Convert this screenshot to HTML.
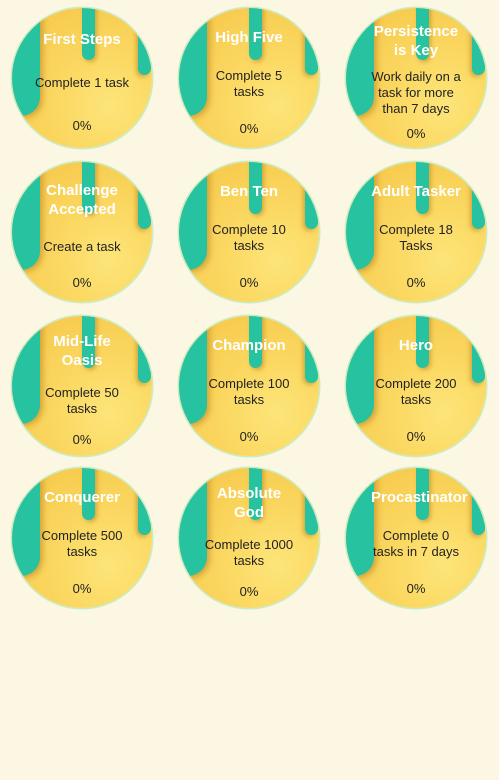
<!DOCTYPE html>
<html><head><meta charset="utf-8"><style>
html,body{margin:0;padding:0;background:#fbf7e2;width:499px;height:780px;overflow:hidden;font-family:"Liberation Sans",sans-serif;}
.b{position:absolute;width:140px;height:140px;border-radius:50%;overflow:hidden;
background:radial-gradient(circle at 70% 70%,#fde57a 0%,#fbd963 35%,#f7cc50 75%,#f3c248 100%);
box-shadow:0 0 0 1.5px #c8ecc4;}
.d{position:absolute;background:#27c29f;}
.d1{left:-10px;top:-20px;width:38px;height:128px;border-radius:0 0 19px 19px;box-shadow:3px 2px 6px rgba(170,110,20,.45);}
.d2{left:70px;top:-10px;width:13px;height:62px;border-radius:0 0 7px 7px;box-shadow:2px 2px 4px rgba(170,110,20,.45);}
.d3{left:126px;top:-10px;width:13px;height:77px;border-radius:0 0 7px 7px;box-shadow:-2px 2px 4px rgba(170,110,20,.45);}
.c{position:absolute;left:16px;top:9px;width:108px;height:130px;display:flex;flex-direction:column;justify-content:space-around;align-items:center;text-align:center;box-sizing:border-box}
.t{color:#fff;font-weight:bold;font-size:15px;line-height:19px;width:90px}
.s{color:#222;font-size:13px;line-height:16px;width:100px}
.p{color:#222;font-size:13px;line-height:16px;}
</style></head><body>
<div id="root"></div>
<script>
const titles=["First Steps","High Five","Persistence is Key","Challenge Accepted","Ben Ten","Adult Tasker","Mid-Life Oasis","Champion","Hero","Conquerer","Absolute God","Procastinator"];
const descs=["Complete 1 task","Complete 5 tasks","Work daily on a task for more than 7 days","Create a task","Complete 10 tasks","Complete 18 Tasks","Complete 50 tasks","Complete 100 tasks","Complete 200 tasks","Complete 500 tasks","Complete 1000 tasks","Complete 0 tasks in 7 days"];
const pcts=["0%","0%","0%","0%","0%","0%","0%","0%","0%","0%","0%","0%"];
const root=document.getElementById('root');
const xs=[12,179,346], ys=[8,162,316,468];
titles.forEach((t,i)=>{
  const b=document.createElement('div');b.className='b';
  
  
  b.style.left=xs[i%3]+'px';b.style.top=ys[Math.floor(i/3)]+'px';
  b.innerHTML='<div class="d d1"></div><div class="d d2"></div><div class="d d3"></div>';
  const c=document.createElement('div');c.className='c';
  const te=document.createElement('div');te.className='t';te.textContent=t;
  
  
  const se=document.createElement('div');se.className='s';se.textContent=descs[i];
  
  
  const pe=document.createElement('div');pe.className='p';pe.textContent=pcts[i];
  
  
  c.append(te,se,pe);b.appendChild(c);root.appendChild(b);
});
</script>
</body></html>
